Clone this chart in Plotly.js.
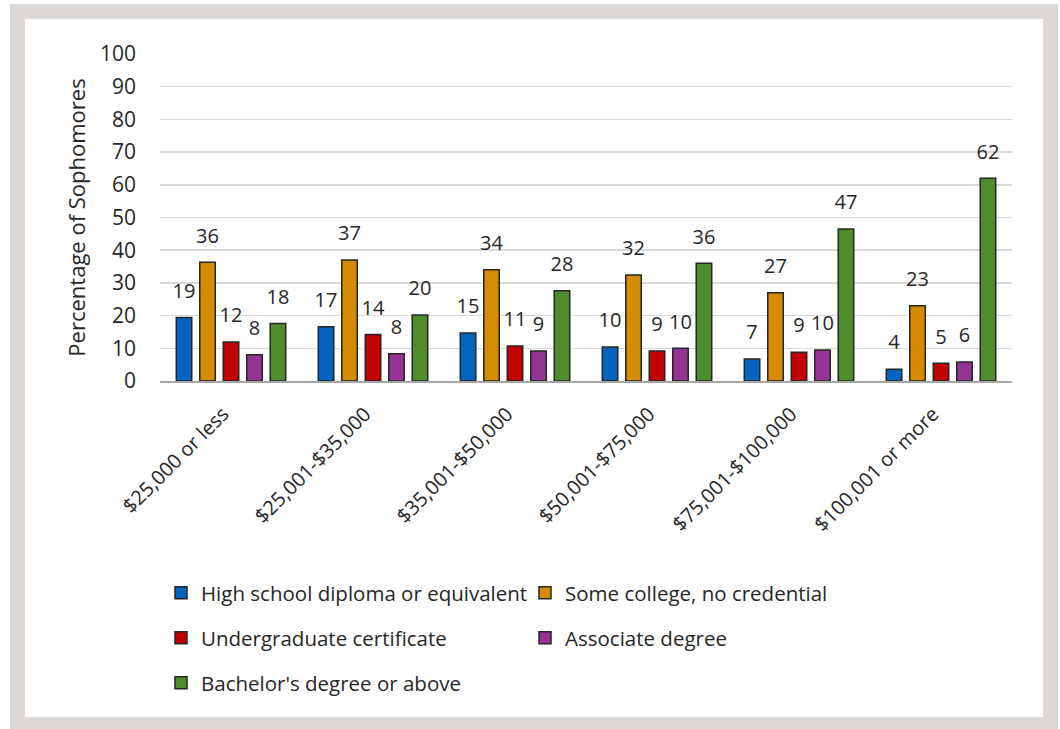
<!DOCTYPE html>
<html>
<head>
<meta charset="utf-8">
<script src="https://cdn.plot.ly/plotly-3.0.1.min.js"></script>
<style>html,body{margin:0;padding:0;background:#fff;}#chart{width:1060px;height:729px;}</style>
</head>
<body>
<div id="chart"></div>
<script>
const categories = ['$25,000 or less', '$25,001-$35,000', '$35,001-$50,000', '$50,001-$75,000', '$75,001-$100,000', '$100,001 or more'];
const seriesNames = ['High school diploma or equivalent', 'Some college, no credential', 'Undergraduate certificate', 'Associate degree', "Bachelor's degree or above"];
const highSchool   = [19.4, 16.6, 14.7, 10.4, 6.7, 3.6];
const someCollege  = [36.3, 37.0, 34.0, 32.4, 27.0, 23.0];
const undergradCert= [11.9, 14.2, 10.7, 9.2, 8.8, 5.4];
const associate    = [8.0, 8.3, 9.2, 10.0, 9.5, 5.8];
const bachelors    = [17.6, 20.2, 27.6, 36.0, 46.5, 62.0];
const yTicks = [0, 10, 20, 30, 40, 50, 60, 70, 80, 90, 100];

const colors = ['#0462c1', '#d48b00', '#c00000', '#943593', '#4f8c2c'];
const allSeries = [highSchool, someCollege, undergradCert, associate, bachelors];
const FONT = 'Open Sans, sans-serif';
const TXT = '#262626';
const GAP = 0.173;

const traces = [];
allSeries.forEach((vals, i) => {
  traces.push({
    type: 'bar', name: seriesNames[i], x: categories, y: vals,
    marker: {color: colors[i], line: {color: '#262626', width: 1.5}},
    legend: i === 0 ? 'legend' : 'legend' + (i + 1),
    offsetgroup: 'g' + i, alignmentgroup: 'a',
    hoverinfo: 'x+y'
  });
});
allSeries.forEach((vals, i) => {
  traces.push({
    type: 'scatter', mode: 'markers+text', x: categories, y: vals,
    text: vals.map(v => Math.round(v).toString()),
    textposition: 'top center',
    textfont: {family: FONT, size: 20, color: TXT},
    marker: {size: 22, opacity: 0},
    offsetgroup: 'g' + i, alignmentgroup: 'a',
    showlegend: false, hoverinfo: 'skip', cliponaxis: false
  });
});

// plot area in pixels
const L = 160, R = 1012, T = 54, B = 381, W = 1060, H = 729;
const px = x => (x - L) / (R - L);
const py = y => (B - y) / (B - T);

const legendRows = [[181, 593], [545, 593], [181, 638], [545, 638], [181, 683]];
const legendFont = {family: FONT, size: 20.5, color: TXT};
const legends = {};
legendRows.forEach((p, i) => {
  legends[i === 0 ? 'legend' : 'legend' + (i + 1)] = {
    xref: 'container', yref: 'container',
    x: (p[0] - 20) / W, y: 1 - p[1] / H,
    xanchor: 'left', yanchor: 'middle',
    orientation: 'h', font: legendFont, bgcolor: 'rgba(0,0,0,0)',
    itemclick: false, itemdoubleclick: false
  };
});

const layout = Object.assign({
  width: W, height: H,
  margin: {l: L, r: W - R, t: T, b: H - B, pad: 0},
  paper_bgcolor: '#ffffff', plot_bgcolor: 'rgba(0,0,0,0)',
  font: {family: FONT, color: TXT},
  barmode: 'group', bargap: GAP, bargroupgap: 0.34,
  scattermode: 'group', scattergap: GAP,
  showlegend: true,
  xaxis: {
    type: 'category', tickangle: -45, showgrid: false,
    showline: true, linecolor: '#a6a6a6', linewidth: 1.5,
    ticks: '', tickfont: {family: FONT, size: 20, color: TXT},
    ticklabelshift: -8, ticklabelstandoff: 12,
    fixedrange: true
  },
  yaxis: {
    range: [0, 100], tickvals: yTicks, ticktext: yTicks.map(String),
    showgrid: true, gridcolor: '#d9d9d9', gridwidth: 1.5,
    zeroline: false, showline: false, ticks: '',
    ticklabelstandoff: 23,
    tickfont: {family: FONT, size: 21, color: TXT},
    title: {text: 'Percentage of Sophomores', font: {family: FONT, size: 22, color: TXT}, standoff: 8},
    fixedrange: true
  },
  shapes: [
    {type: 'rect', xref: 'paper', yref: 'paper', layer: 'below',
     x0: px(10), x1: px(1058), y0: py(729), y1: py(4), fillcolor: '#dcd8d5', line: {width: 0}},
    {type: 'rect', xref: 'paper', yref: 'paper', layer: 'below',
     x0: px(25), x1: px(1043), y0: py(717), y1: py(19), fillcolor: '#ffffff', line: {width: 0}}
  ]
}, legends);

Plotly.newPlot('chart', traces, layout, {displayModeBar: false, staticPlot: true});
</script>
</body>
</html>
